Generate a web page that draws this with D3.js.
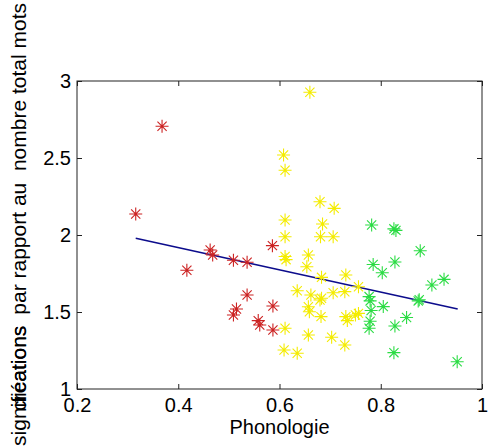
<!DOCTYPE html>
<html>
<head>
<meta charset="utf-8">
<script src="https://cdn.jsdelivr.net/npm/d3@7"></script>
<style>
  html, body { margin: 0; padding: 0; background: #fff; }
  svg { display: block; }
  text { font-family: "Liberation Sans", Arial, sans-serif; fill: #000; }
</style>
</head>
<body>
<svg id="chart" width="488" height="448"></svg>
<script>
// ---- data ----
const redX = [0.316,0.368,0.417,0.463,0.468,0.509,0.536,0.586,0.536,0.515,0.509,0.558,0.561,0.587,0.587];
const redY = [2.136,2.706,1.771,1.903,1.870,1.836,1.823,1.931,1.610,1.519,1.481,1.444,1.416,1.539,1.383];

const yellowX = [0.660,0.608,0.611,0.680,0.708,0.611,0.685,0.611,0.681,0.706,
                 0.611,0.613,0.657,0.654,0.683,0.731,0.756,0.635,0.662,0.683,
                 0.680,0.706,0.729,0.657,0.659,0.682,0.731,0.734,0.756,0.750,
                 0.611,0.657,0.703,0.729,0.609,0.635];
const yellowY = [2.927,2.519,2.420,2.216,2.173,2.097,2.071,1.989,1.989,1.989,
                 1.860,1.840,1.870,1.794,1.725,1.740,1.664,1.638,1.610,1.589,
                 1.578,1.625,1.632,1.534,1.502,1.470,1.470,1.444,1.491,1.480,
                 1.394,1.351,1.336,1.286,1.253,1.232];

const greenX = [0.782,0.826,0.830,0.878,0.785,0.828,0.803,0.901,0.925,0.876,0.874,
                0.805,0.851,0.828,0.826,0.951,0.777,0.779,0.781,0.779,0.777];
const greenY = [2.065,2.040,2.030,1.898,1.808,1.825,1.755,1.675,1.712,1.580,1.572,
                1.535,1.464,1.409,1.236,1.177,1.600,1.572,1.510,1.440,1.394];

const fitX = [0.316, 0.952];
const fitY = [1.979, 1.519];

const xTicks = [0.2, 0.4, 0.6, 0.8, 1];
const xTickLabels = ["0.2", "0.4", "0.6", "0.8", "1"];
const yTicks = [1, 1.5, 2, 2.5, 3];
const yTickLabels = ["1", "1.5", "2", "2.5", "3"];

const xLabel = "Phonologie";
const yLabelMain = "par rapport au  nombre total mots";
const yLabelWords = ["significations", "créations"];

// ---- layout ----
const svg = d3.select("#chart");
const L = 77, R = 482, T = 81, B = 389;
const x = d3.scaleLinear().domain([0.2, 1]).range([L, R]);
const y = d3.scaleLinear().domain([1, 3]).range([B, T]);
const fs = 20;
const tickLen = 5;

// frame
svg.append("rect").attr("x", L).attr("y", T).attr("width", R - L).attr("height", B - T)
  .attr("fill", "#fff").attr("stroke", "#222").attr("stroke-width", 1);

// x ticks (bottom and top, inward)
const xAxisB = d3.axisBottom(x).tickValues(xTicks).tickSizeInner(-tickLen).tickSizeOuter(0)
  .tickFormat((d, i) => xTickLabels[i]);
const gxb = svg.append("g").attr("transform", `translate(0,${B})`).call(xAxisB);
gxb.select(".domain").remove();
gxb.selectAll("line").attr("stroke", "#222");
gxb.selectAll("text").attr("font-size", fs).attr("y", 0).attr("dy", "23px")
  .attr("font-family", "Liberation Sans, Arial, sans-serif").attr("fill", "#000");

const xAxisT = d3.axisTop(x).tickValues(xTicks).tickSizeInner(-tickLen).tickSizeOuter(0).tickFormat("");
const gxt = svg.append("g").attr("transform", `translate(0,${T})`).call(xAxisT);
gxt.select(".domain").remove();
gxt.selectAll("line").attr("stroke", "#222");

// y ticks (left and right, inward)
const yAxisL = d3.axisLeft(y).tickValues(yTicks).tickSizeInner(-tickLen).tickSizeOuter(0)
  .tickFormat((d, i) => yTickLabels[i]);
const gyl = svg.append("g").attr("transform", `translate(${L},0)`).call(yAxisL);
gyl.select(".domain").remove();
gyl.selectAll("line").attr("stroke", "#222");
gyl.selectAll("text").attr("font-size", fs).attr("x", -6).attr("dy", "0.34em")
  .attr("font-family", "Liberation Sans, Arial, sans-serif").attr("fill", "#000");

const yAxisR = d3.axisRight(y).tickValues(yTicks).tickSizeInner(-tickLen).tickSizeOuter(0).tickFormat("");
const gyr = svg.append("g").attr("transform", `translate(${R},0)`).call(yAxisR);
gyr.select(".domain").remove();
gyr.selectAll("line").attr("stroke", "#222");

// regression line
const fitData = fitX.map((d, i) => [d, fitY[i]]);
svg.append("path").datum(fitData)
  .attr("d", d3.line().x(d => x(d[0])).y(d => y(d[1])))
  .attr("fill", "none").attr("stroke", "#0c0c8c").attr("stroke-width", 1.6);

// asterisk markers
function star(g, xs, ys, color) {
  const pts = xs.map((d, i) => [d, ys[i]]);
  const a = 6.5, b = 4.6;
  const path = `M${-a},0L${a},0M0,${-a}L0,${a}M${-b},${-b}L${b},${b}M${-b},${b}L${b},${-b}`;
  g.selectAll(null).data(pts).enter().append("path")
    .attr("transform", d => `translate(${x(d[0])},${y(d[1])})`)
    .attr("d", path).attr("fill", "none").attr("stroke", color).attr("stroke-width", 1.1);
}
const gp = svg.append("g");
star(gp, yellowX, yellowY, "#f4ec00");
star(gp, greenX, greenY, "#2bdc44");
star(gp, redX, redY, "#cc2222");

// x label
svg.append("text").attr("x", (L + R) / 2).attr("y", 434)
  .attr("text-anchor", "middle").attr("font-size", fs).text(xLabel);

// y label (rotated, clipped at both ends as in the original)
const yfs = 21;
const yl = svg.append("g");
const lx = 26;
const mainT = yl.append("text")
  .attr("transform", `translate(${lx},3) rotate(-90)`)
  .attr("text-anchor", "end").attr("font-size", yfs)
  .style("white-space", "pre").text(yLabelMain);
const len = mainT.node().getComputedTextLength();
const wy = 3 + len + 11;
yLabelWords.forEach(w => {
  yl.append("text")
    .attr("transform", `translate(${lx},${wy}) rotate(-90)`)
    .attr("text-anchor", "end").attr("font-size", yfs).text(w);
});
</script>
</body>
</html>
